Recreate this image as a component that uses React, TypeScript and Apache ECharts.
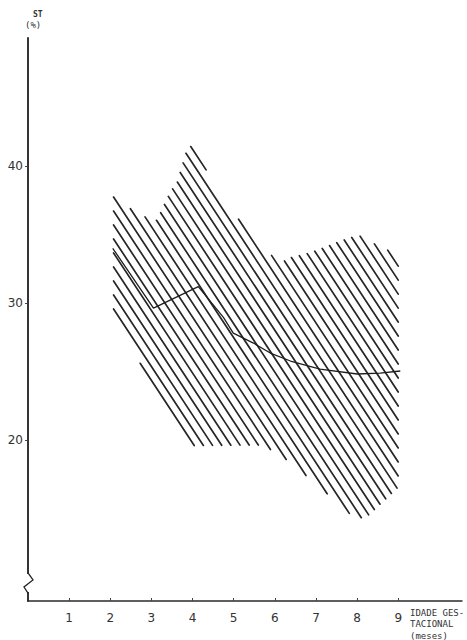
import React, { useEffect, useRef } from "react";
import * as echarts from "echarts";

// Axis ticks
const xTicks = [1, 2, 3, 4, 5, 6, 7, 8, 9];
const yTicks = [20, 30, 40];

// Upper boundary of the hatched band (left -> right)
const upperX = [2.08, 2.61, 3.1, 3.22, 3.46, 3.63, 3.9, 4.02, 4.63, 5.6, 6.18, 6.43, 6.67, 7.06, 7.54, 8.03, 8.37, 8.61, 9.0];
const upperY = [37.74, 36.64, 35.91, 36.57, 38.1, 38.83, 41.53, 41.31, 38.18, 34.09, 32.99, 33.36, 33.5, 33.87, 34.45, 34.96, 34.38, 34.09, 33.43];

// Lower boundary of the hatched band (left -> right)
const lowerX = [2.08, 2.85, 4.0, 5.72, 6.3, 6.98, 7.91, 8.2, 9.0];
const lowerY = [29.27, 24.9, 19.6, 19.64, 18.54, 16.86, 14.38, 14.31, 16.57];

// Mean curve
const meanX = [2.06, 3.05, 4.14, 4.75, 4.99, 5.48, 5.89, 6.38, 7.1, 8.0, 8.56, 9.05];
const meanY = [34.0, 29.63, 31.2, 28.95, 27.81, 27.08, 26.35, 25.77, 25.18, 24.82, 24.89, 25.04];

export default function App() {
  const ref = useRef<HTMLDivElement>(null);

  useEffect(() => {
    if (!ref.current) return;
    const chart = echarts.init(ref.current, null, { renderer: "svg" });

    const polygon: number[][] = [];
    upperX.forEach((x, i) => polygon.push([x, upperY[i]]));
    for (let i = lowerX.length - 1; i >= 0; i--) polygon.push([lowerX[i], lowerY[i]]);

    const renderHatch = (_params: any, api: any) => {
      const pts = polygon.map((p) => api.coord(p));
      const k = 1.52; // pixel slope of hatch strokes
      const step = 9.2;
      const us = pts.map((p: number[]) => p[0] - p[1] / k);
      const minU = Math.min(...us);
      const maxU = Math.max(...us);
      const u0 = us[0];
      let c = u0 - Math.ceil((u0 - minU) / step) * step;
      const children: any[] = [];
      const n = pts.length;
      for (; c <= maxU; c += step) {
        const vs: number[] = [];
        for (let i = 0; i < n; i++) {
          const j = (i + 1) % n;
          const a = us[i];
          const b = us[j];
          if ((a <= c && c < b) || (b <= c && c < a)) {
            const t = (c - a) / (b - a);
            vs.push(pts[i][1] + t * (pts[j][1] - pts[i][1]));
          }
        }
        vs.sort((p, q) => p - q);
        for (let m = 0; m + 1 < vs.length; m += 2) {
          if (vs[m + 1] - vs[m] < 3) continue;
          children.push({
            type: "line",
            shape: { x1: c + vs[m] / k, y1: vs[m], x2: c + vs[m + 1] / k, y2: vs[m + 1] },
            style: { stroke: "#262626", lineWidth: 1.7, lineCap: "round" },
          });
        }
      }
      return { type: "group", children };
    };

    chart.setOption({
      animation: false,
      backgroundColor: "#ffffff",
      grid: { left: 28, right: 5, top: 38, bottom: 39, containLabel: false },
      xAxis: {
        type: "value",
        min: 0,
        max: 10.55,
        splitLine: { show: false },
        axisLine: { show: true, onZero: false, lineStyle: { color: "#2a2a2a", width: 1.5 } },
        axisTick: { show: true, inside: true, length: 3, customValues: xTicks, lineStyle: { color: "#444" } },
        axisLabel: {
          customValues: xTicks,
          color: "#333",
          fontSize: 12,
          fontFamily: "DejaVu Sans",
          margin: 11,
        },
      },
      yAxis: {
        type: "value",
        min: 8.25,
        max: 49.35,
        splitLine: { show: false },
        axisLine: { show: true, onZero: false, lineStyle: { color: "#1e1e1e", width: 1.8 } },
        axisTick: { show: true, inside: false, length: 3, customValues: yTicks, lineStyle: { color: "#444" } },
        axisLabel: {
          customValues: yTicks,
          color: "#333",
          fontSize: 12,
          fontFamily: "DejaVu Sans",
          margin: 5,
        },
      },
      series: [
        {
          type: "custom",
          renderItem: renderHatch,
          data: [[2, 30]],
          silent: true,
          clip: false,
          z: 2,
        },
        {
          type: "line",
          data: meanX.map((x, i) => [x, meanY[i]]),
          symbol: "none",
          smooth: false,
          lineStyle: { color: "#1e1e1e", width: 1.3 },
          z: 3,
        },
      ],
    });

    const top = chart.convertToPixel({ gridIndex: 0 }, [0, 10.3]) as number[];
    const bot = chart.convertToPixel({ gridIndex: 0 }, [0, 8.83]) as number[];
    const x0 = top[0];
    const y1 = top[1];
    const y2 = bot[1];
    const h = y2 - y1;

    chart.setOption({
      graphic: [
        {
          type: "line",
          shape: { x1: x0, y1: y1 + 1, x2: x0, y2: y2 - 1 },
          style: { stroke: "#ffffff", lineWidth: 4 },
          z: 10,
        },
        {
          type: "polyline",
          shape: {
            points: [
              [x0, y1],
              [x0 + 5, y1 + h * 0.35],
              [x0 - 4, y1 + h * 0.7],
              [x0, y2],
            ],
          },
          style: { stroke: "#222", lineWidth: 1.3, fill: null },
          z: 11,
        },
        {
          type: "text",
          left: 33,
          top: 10,
          style: { text: "ST", fontSize: 8, fontFamily: "DejaVu Sans Mono", fill: "#333", fontWeight: "bold" },
        },
        {
          type: "text",
          left: 25,
          top: 20,
          style: { text: "(%)", fontSize: 9, fontFamily: "DejaVu Sans Mono", fill: "#333" },
        },
        {
          type: "text",
          left: 410,
          top: 607,
          style: {
            text: "IDADE GES-\nTACIONAL\n(meses)",
            fontSize: 9,
            lineHeight: 11.5,
            fontFamily: "DejaVu Sans Mono",
            fill: "#333",
          },
        },
      ],
    });

    return () => chart.dispose();
  }, []);

  return (
    <div
      ref={ref}
      style={{ position: "absolute", left: 0, top: 0, width: 467, height: 640 }}
    />
  );
}
